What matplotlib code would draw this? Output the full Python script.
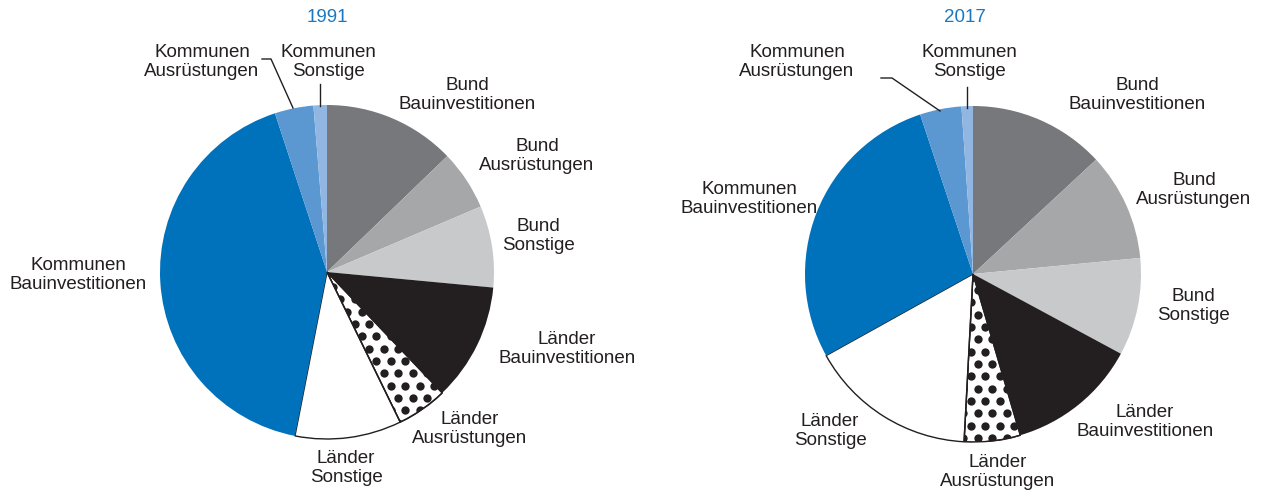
import matplotlib
matplotlib.use("Agg")
import matplotlib.pyplot as plt
import numpy as np

# ---------------- data ----------------
categories = ["Bund\nBauinvestitionen", "Bund\nAusrüstungen", "Bund\nSonstige",
              "Länder\nBauinvestitionen", "Länder\nAusrüstungen", "Länder\nSonstige",
              "Kommunen\nBauinvestitionen", "Kommunen\nAusrüstungen", "Kommunen\nSonstige"]
years = ["1991", "2017"]
shares_1991 = [12.8, 5.8, 7.9, 11.4, 4.9, 10.3, 41.9, 3.75, 1.3]
shares_2017 = [13.1, 10.4, 9.4, 12.6, 5.4, 16.1, 28.0, 4.0, 1.1]

# ---------------- style ----------------
colors = ["#77787b", "#a6a7a9", "#c8c9cb", "#231f20", "#ffffff", "#ffffff",
          "#0071bb", "#5b97d1", "#92b6e2"]
text_color = "#231f20"
title_color = "#1a78c2"
plt.rcParams["font.family"] = ["Liberation Sans", "DejaVu Sans"]

W, H = 1263, 492
fig = plt.figure(figsize=(W / 100, H / 100), dpi=100)

# layout (pixel positions of pie centre / radius / labels)
layouts = {
    "1991": dict(center=(327, 272), r=167, title=(327, 17),
                 labels=[(467, 95), (537, 156), (538, 236), (567, 349), (470, 429),
                         (346, 468), (78, 275), (202, 62), (328, 62)],
                 leaders=[[(262, 59), (271, 59), (293, 108)], [(320, 84), (320, 106)]]),
    "2017": dict(center=(973, 274), r=168, title=(965, 17),
                 labels=[(1137, 95), (1194, 190), (1193, 306), (1145, 422), (998, 472),
                         (830, 431), (749, 199), (797, 62), (969, 62)],
                 leaders=[[(881, 78), (892, 78), (940, 111)], [(967, 87), (967, 108)]]),
}
data = {"1991": shares_1991, "2017": shares_2017}

for year in years:
    L = layouts[year]
    cx, cy = L["center"]
    r = L["r"]
    ax = fig.add_axes([(cx - r) / W, (H - cy - r) / H, 2 * r / W, 2 * r / H])
    wedges, _ = ax.pie(data[year], colors=colors, startangle=90, counterclock=False,
                       radius=1.0, wedgeprops=dict(linewidth=0, edgecolor="none"))
    for i in (4, 5):
        wedges[i].set_edgecolor(text_color)
        wedges[i].set_linewidth(1.0)
    ax.set_xlim(-1, 1)
    ax.set_ylim(-1, 1)
    ax.set_aspect("equal")
    ax.axis("off")

    # dot pattern for Länder Ausrüstungen
    sp = 14.5 / r
    pts_x, pts_y = [], []
    for k, yy in enumerate(np.arange(-1.05, 1.05, sp * 0.85)):
        off = (sp / 2) if k % 2 else 0.0
        for xx in np.arange(-1.05 + off, 1.05, sp):
            pts_x.append(xx)
            pts_y.append(yy)
    sc = ax.scatter(pts_x, pts_y, s=36, color=text_color, linewidths=0, zorder=3)
    sc.set_clip_path(wedges[4])
    ax.add_patch(plt.Polygon(wedges[4].get_path().vertices * 1.0, closed=True, fill=False,
                             edgecolor=text_color, linewidth=1.0, zorder=4,
                             transform=wedges[4].get_transform()))

    def px2d(p):
        return ((p[0] - cx) / r, (cy - p[1]) / r)

    for lab, p in zip(categories, L["labels"]):
        x, y = px2d(p)
        ax.text(x, y, lab, ha="center", va="center", fontsize=13.5, color=text_color,
                linespacing=1.1, clip_on=False)
    for line in L["leaders"]:
        xs, ys = zip(*[px2d(p) for p in line])
        ax.plot(xs, ys, color=text_color, linewidth=1.0, clip_on=False)
    tx, ty = px2d(L["title"])
    ax.text(tx, ty, year, ha="center", va="center", fontsize=13.5, color=title_color,
            clip_on=False)

fig.savefig("out.png", dpi=100)
